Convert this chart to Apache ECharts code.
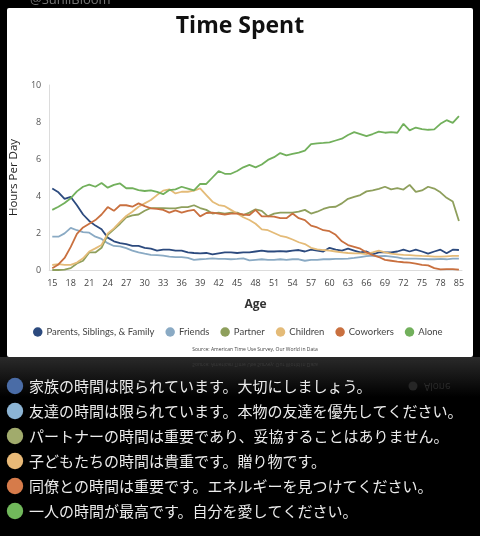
<!DOCTYPE html>
<html><head><meta charset="utf-8">
<script src="https://cdn.jsdelivr.net/npm/echarts@6/dist/echarts.min.js"></script>
<style>html,body{margin:0;padding:0;background:#000}#c{width:480px;height:536px}</style>
</head><body><div id="c"></div>
<script>
// Age categories (survey top-codes: 15..80, then 85)
const ages = ['15','16','17','18','19','20','21','22','23','24','25','26','27','28','29','30','31','32','33','34','35','36','37','38','39','40','41','42','43','44','45','46','47','48','49','50','51','52','53','54','55','56','57','58','59','60','61','62','63','64','65','66','67','68','69','70','71','72','73','74','75','76','77','78','79','80','85'];

const seriesNames = ['Parents, Siblings, & Family','Friends','Partner','Children','Coworkers','Alone'];
const seriesColors = ['#2c4a7e','#8aaac4','#8e9f5c','#e4bb78','#c9703f','#72b05c'];

const family = [4.4,4.2,3.85,3.95,3.5,3.0,2.65,2.4,2.2,1.75,1.55,1.45,1.4,1.3,1.3,1.2,1.15,1.05,1.1,1.1,1.05,1.05,0.95,0.92,0.9,0.92,0.85,0.9,0.95,0.95,0.92,0.95,0.95,1.0,1.05,1.0,1.0,1.02,1.0,1.05,1.08,1.0,1.1,1.05,1.0,1.2,1.1,1.05,1.15,1.05,0.95,1.0,0.85,0.95,0.95,0.95,1.0,1.1,1.0,1.1,1.0,0.88,1.0,1.1,0.9,1.1,1.08];
const friends = [1.8,1.8,1.98,2.28,2.15,2.05,2.02,1.8,1.68,1.45,1.3,1.28,1.18,1.05,0.95,0.88,0.82,0.8,0.78,0.72,0.7,0.7,0.65,0.55,0.58,0.6,0.63,0.6,0.6,0.58,0.6,0.63,0.52,0.55,0.58,0.55,0.55,0.58,0.55,0.58,0.58,0.5,0.55,0.55,0.58,0.58,0.6,0.6,0.62,0.65,0.7,0.75,0.78,0.75,0.76,0.72,0.68,0.62,0.62,0.62,0.6,0.58,0.58,0.6,0.58,0.62,0.62];
const partner = [0,0,0.02,0.1,0.35,0.5,0.95,0.95,1.2,1.9,2.2,2.5,2.85,2.95,3.0,3.2,3.35,3.35,3.35,3.33,3.33,3.4,3.4,3.5,3.35,3.25,3.05,3.1,3.05,3.1,3.1,2.97,3.1,3.28,3.2,2.9,3.05,3.1,3.1,3.1,3.15,3.25,3.05,3.15,3.3,3.4,3.42,3.6,3.85,3.95,4.05,4.25,4.3,4.38,4.5,4.36,4.42,4.35,4.6,4.22,4.3,4.5,4.4,4.2,3.9,3.7,2.65];
const children = [0.27,0.32,0.28,0.28,0.4,0.63,1.0,1.17,1.35,1.98,2.25,2.6,2.92,3.15,3.42,3.6,3.78,4.05,4.29,4.36,4.14,4.23,4.23,4.29,4.41,4.05,3.69,3.51,3.45,3.25,3.05,2.85,2.7,2.5,2.2,2.15,2.0,1.85,1.78,1.65,1.5,1.4,1.2,1.12,1.08,1.05,1.0,0.95,0.92,0.9,0.9,0.86,0.95,1.05,0.95,0.88,0.85,0.82,0.8,0.78,0.76,0.75,0.72,0.72,0.74,0.76,0.76];
const coworkers = [0.1,0.3,0.65,1.25,1.95,2.3,2.5,2.7,3.0,3.4,3.2,3.5,3.5,3.42,3.6,3.45,3.33,3.3,3.25,3.1,3.22,3.1,3.2,3.25,2.9,3.08,3.1,3.05,3.0,3.05,3.05,3.0,2.97,3.25,2.9,2.9,2.88,2.8,2.8,3.05,2.8,2.7,2.4,2.3,2.15,2.1,1.9,1.55,1.35,1.25,1.15,0.95,0.8,0.7,0.55,0.5,0.45,0.42,0.4,0.35,0.28,0.25,0.1,0.03,0.05,0.05,0.02];
const alone = [3.25,3.42,3.62,3.88,4.25,4.5,4.62,4.5,4.7,4.45,4.6,4.68,4.42,4.42,4.32,4.27,4.3,4.22,4.1,4.32,4.36,4.5,4.4,4.3,4.65,4.65,5.0,5.35,5.2,5.2,5.35,5.55,5.68,5.55,5.7,5.95,6.1,6.32,6.2,6.28,6.35,6.45,6.8,6.85,6.87,6.9,7.0,7.1,7.3,7.45,7.35,7.24,7.35,7.48,7.42,7.45,7.42,7.9,7.55,7.7,7.62,7.58,7.6,7.9,8.1,7.95,8.32];

const yTicks = [0,2,4,6,8,10];

const notes = [
  '家族の時間は限られています。大切にしましょう。',
  '友達の時間は限られています。本物の友達を優先してください。',
  'パートナーの時間は重要であり、妥協することはありません。',
  '子どもたちの時間は貴重です。贈り物です。',
  '同僚との時間は重要です。エネルギーを見つけてください。',
  '一人の時間が最高です。自分を愛してください。'
];
const noteColors = ['#4a6ca6','#8cb4d4','#a1ab6c','#e9b977','#d67b4a','#71b85b'];

const allData = [family, friends, partner, children, coworkers, alone];
const fontEn = '"Open Sans", Lato, sans-serif';
const fontLeg = 'Lato, "Open Sans", sans-serif';

const graphics = [
  {type:'rect', z:-10, shape:{x:0,y:357,width:480,height:40}, style:{fill:{type:'linear',x:0,y:0,x2:0,y2:1,colorStops:[{offset:0,color:'#2a2a2a'},{offset:1,color:'#000'}]}}},
  {type:'rect', z:-10, shape:{x:7,y:8,width:466,height:349,r:2}, style:{fill:'#ffffff'}},
  {type:'text', z:5, style:{x:30,y:0,text:'@SunilBloom',fill:'#777',font:'13px '+fontEn,verticalAlign:'middle'}},
  {type:'text', z:5, style:{x:255,y:350,text:'Source: American Time Use Survey, Our World in Data',fill:'#444',font:'5px '+fontEn,align:'center',verticalAlign:'middle'}},
  {type:'text', z:5, x:255, y:364, scaleY:-1, style:{x:0,y:0,text:'Source: American Time Use Survey, Our World in Data',fill:'#3a3a3a',font:'5px '+fontEn,align:'center',verticalAlign:'middle'}},
  {type:'circle', z:5, shape:{cx:413,cy:386,r:4.5}, style:{fill:'#262626'}},
  {type:'text', z:5, x:424, y:386, scaleY:-1, style:{x:0,y:0,text:'Alone',fill:'#2a2a2a',font:'10px '+fontEn,verticalAlign:'middle'}}
];
notes.forEach((t,i)=>{
  const cy = 386 + i*25;
  graphics.push({type:'circle', z:5, shape:{cx:15,cy:cy,r:8.2}, style:{fill:noteColors[i]}});
  graphics.push({type:'text', z:5, style:{x:29,y:cy,text:t,fill:'#ececec',font:'15px "Noto Sans CJK JP"',verticalAlign:'middle'}});
});

const chart = echarts.init(document.getElementById('c'), null, {renderer:'canvas'});
chart.setOption({
  backgroundColor:'#000',
  animation:false,
  title:{text:'Time Spent', left:'center', top:10, textStyle:{fontFamily:fontEn, fontSize:23, fontWeight:'bold', color:'#111'}},
  grid:{left:47.7, right:18, top:85, bottom:266},
  legend:{
    data: seriesNames.map(n=>({name:n, icon:'circle'})),
    left:28, top:322, itemWidth:9.5, itemHeight:9.5, itemGap:11,
    textStyle:{fontFamily:fontLeg, fontSize:9.5, color:'#444', padding:[0,0,0,-1]}
  },
  xAxis:{
    type:'category', data:ages, boundaryGap:true,
    name:'Age', nameLocation:'middle', nameGap:29,
    nameTextStyle:{fontFamily:fontEn, fontSize:12, fontWeight:'bold', color:'#333'},
    axisLine:{lineStyle:{color:'#dcdcdc'}}, axisTick:{show:false},
    axisLabel:{interval:2, fontFamily:fontEn, fontSize:9, color:'#444', margin:9}
  },
  yAxis:{
    type:'value', min:0, max:10, interval:2,
    name:'Hours Per Day', nameLocation:'middle', nameGap:21,
    nameTextStyle:{fontFamily:fontEn, fontSize:11.5, color:'#222'},
    axisLine:{show:true, lineStyle:{color:'#dcdcdc'}}, axisTick:{show:false},
    splitLine:{show:false},
    axisLabel:{fontFamily:fontEn, fontSize:9, color:'#555', margin:8, formatter:v=>yTicks.includes(v)?String(v):''}
  },
  graphic: graphics,
  series: seriesNames.map((n,i)=>({
    name:n, type:'line', data:allData[i], showSymbol:false, symbol:'none',
    color:seriesColors[i], lineStyle:{width:1.8, color:seriesColors[i]}, z:3
  }))
});
</script></body></html>
